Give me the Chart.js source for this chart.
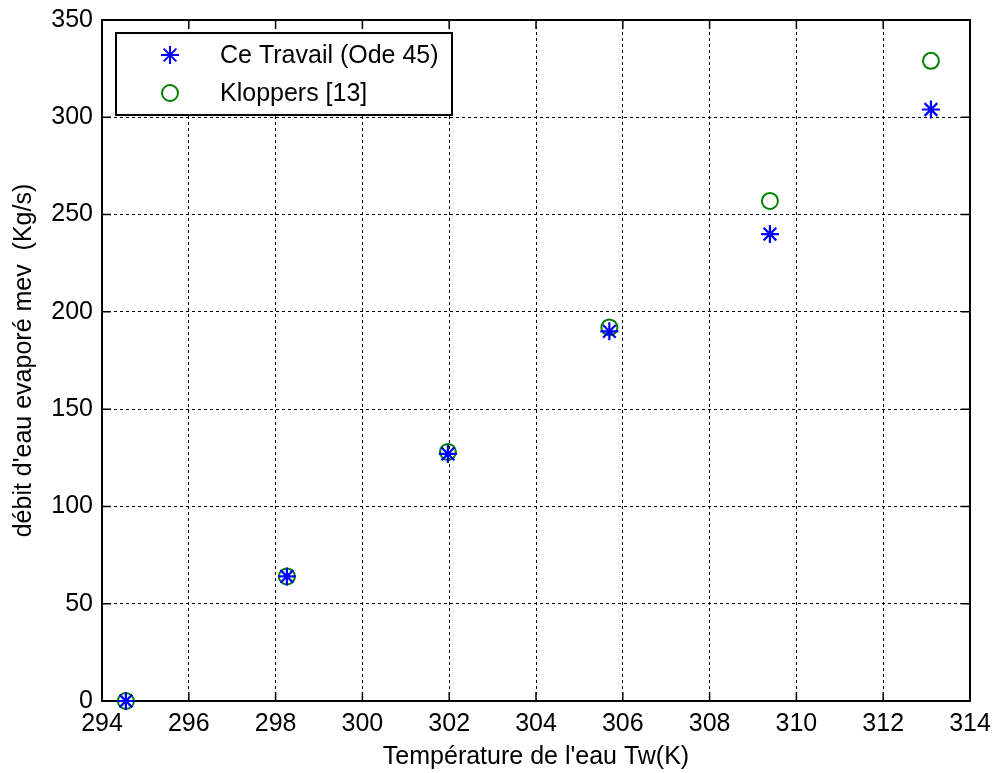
<!DOCTYPE html>
<html>
<head>
<meta charset="utf-8">
<script src="https://cdn.jsdelivr.net/npm/chart.js"></script>
<style>
  html, body { margin: 0; padding: 0; background: #fff; }
  #wrap { width: 993px; height: 773px; }
</style>
</head>
<body>
<div id="wrap"><canvas id="chartEvap" width="993" height="773"></canvas></div>
<script>
// valeurs
const tempK = [294.55, 298.26, 301.97, 305.69, 309.39, 313.10];
const ceTravail = [0, 64, 127, 190, 240, 304];
const kloppers = [0, 64, 128, 192, 257, 329];
const xTicks = [294, 296, 298, 300, 302, 304, 306, 308, 310, 312, 314];
const yTicks = [0, 50, 100, 150, 200, 250, 300, 350];

const FONT = "'Liberation Sans', Arial, sans-serif";
const FSIZE = 25;

const points = (ys) => tempK.map((x, i) => ({ x, y: ys[i] }));

// cadre noir + graduations vers l'intérieur (style MATLAB)
const boxPlugin = {
    id: "box",
    beforeDatasetsDraw(chart) {
        const { ctx, chartArea: a, scales } = chart;
        ctx.save();
        ctx.strokeStyle = "#000";
        ctx.lineWidth = 1.5;
        const tl = 9;
        ctx.beginPath();
        for (const v of xTicks) {
            const px = scales.x.getPixelForValue(v);
            ctx.moveTo(px, a.bottom); ctx.lineTo(px, a.bottom - tl);
            ctx.moveTo(px, a.top); ctx.lineTo(px, a.top + tl);
        }
        for (const v of yTicks) {
            const py = scales.y.getPixelForValue(v);
            ctx.moveTo(a.left, py); ctx.lineTo(a.left + tl, py);
            ctx.moveTo(a.right, py); ctx.lineTo(a.right - tl, py);
        }
        ctx.stroke();
        ctx.lineWidth = 2;
        ctx.strokeRect(a.left, a.top, a.right - a.left, a.bottom - a.top);
        ctx.restore();
    },
    afterDraw(chart) {
        // légende encadrée en haut à gauche
        const { ctx } = chart;
        ctx.save();
        ctx.fillStyle = "#fff";
        ctx.fillRect(116, 33, 336, 82);
        ctx.strokeStyle = "#000";
        ctx.lineWidth = 2;
        ctx.strokeRect(116, 33, 336, 82);
        ctx.font = FSIZE + "px " + FONT;
        ctx.textBaseline = "middle";
        chart.data.datasets.forEach((ds, i) => {
            const y = 55 + i * 38;
            ctx.strokeStyle = ds.borderColor;
            ctx.fillStyle = "rgba(0,0,0,0)";
            Chart.helpers.drawPoint(ctx, {
                pointStyle: ds.pointStyle,
                radius: ds.pointRadius,
                borderWidth: ds.borderWidth
            }, 170, y);
            ctx.fillStyle = "#000";
            ctx.fillText(ds.label, 220, y + 1);
        });
        ctx.restore();
    }
};

new Chart(document.getElementById("chartEvap"), {
    type: "scatter",
    data: {
        datasets: [
            {
                label: "Ce Travail (Ode 45)",
                data: points(ceTravail),
                pointStyle: "star",
                pointRadius: 9,
                borderWidth: 2.2,
                borderColor: "#0000ff",
                backgroundColor: "#0000ff",
                clip: false
            },
            {
                label: "Kloppers [13]",
                data: points(kloppers),
                pointStyle: "circle",
                pointRadius: 8,
                borderWidth: 2,
                borderColor: "#008000",
                backgroundColor: "rgba(0,0,0,0)",
                clip: false
            }
        ]
    },
    options: {
        responsive: false,
        animation: false,
        layout: { padding: { left: 0, top: 20, right: 23, bottom: 0 } },
        plugins: {
            legend: { display: false },
            tooltip: { enabled: false }
        },
        scales: {
            x: {
                type: "linear",
                min: 294,
                max: 314,
                afterFit: (s) => { s.height = 72; s.paddingLeft = 0; s.paddingRight = 0; },
                afterBuildTicks: (s) => { s.ticks = xTicks.map(v => ({ value: v })); },
                ticks: {
                    color: "#000",
                    padding: 8,
                    font: { family: FONT, size: FSIZE },
                    callback: (v) => String(v)
                },
                grid: {
                    color: (c) => (c.tick && (c.tick.value === 294 || c.tick.value === 314)) ? "rgba(0,0,0,0)" : "#000",
                    lineWidth: 1,
                    drawTicks: false
                },
                border: { display: false, dash: [3, 3] },
                title: {
                    display: true,
                    text: "Température de l'eau Tw(K)",
                    color: "#000",
                    font: { family: FONT, size: FSIZE },
                    padding: { top: 0, bottom: 1 }
                }
            },
            y: {
                type: "linear",
                min: 0,
                max: 350,
                afterFit: (s) => { s.width = 102; s.paddingTop = 0; s.paddingBottom = 0; },
                afterBuildTicks: (s) => { s.ticks = yTicks.map(v => ({ value: v })); },
                ticks: {
                    color: "#000",
                    padding: 9,
                    font: { family: FONT, size: FSIZE },
                    callback: (v) => String(v)
                },
                grid: {
                    color: (c) => (c.tick && (c.tick.value === 0 || c.tick.value === 350)) ? "rgba(0,0,0,0)" : "#000",
                    lineWidth: 1,
                    drawTicks: false
                },
                border: { display: false, dash: [3, 3] },
                title: {
                    display: true,
                    text: "débit d'eau evaporé mev  (Kg/s)",
                    color: "#000",
                    font: { family: FONT, size: FSIZE },
                    padding: { top: 9, bottom: 0 }
                }
            }
        }
    },
    plugins: [boxPlugin]
});
</script>
</body>
</html>
